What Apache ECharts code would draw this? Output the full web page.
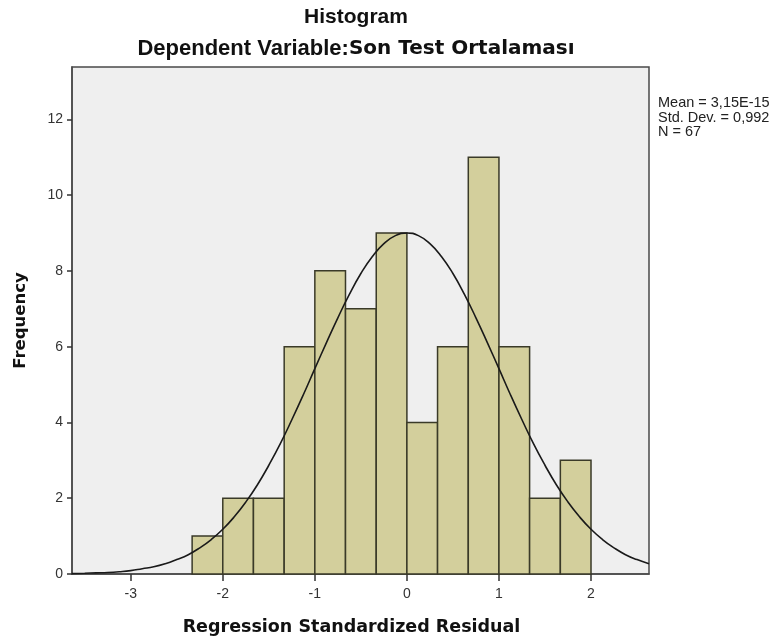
<!DOCTYPE html>
<html>
<head>
<meta charset="utf-8">
<script src="https://cdn.jsdelivr.net/npm/echarts@6/dist/echarts.min.js"></script>
<style>html,body{margin:0;padding:0;background:#fff}#c{width:780px;height:642px}</style>
</head>
<body>
<div id="c"></div>
<script>
// Histogram bins (edges) and frequencies
const binEdges = [-2.333, -2, -1.667, -1.333, -1, -0.667, -0.333, 0, 0.333, 0.667, 1, 1.333, 1.667, 2];
const counts = [1, 2, 2, 6, 8, 7, 9, 4, 6, 11, 6, 2, 3];
// Normal curve
const curveX = [-3.64, -3.5, -3.375, -3.25, -3.125, -3, -2.875, -2.75, -2.625, -2.5, -2.375, -2.25, -2.125, -2, -1.875, -1.75, -1.625, -1.5, -1.375, -1.25, -1.125, -1, -0.875, -0.75, -0.625, -0.5, -0.375, -0.25, -0.125, 0, 0.125, 0.25, 0.375, 0.5, 0.625, 0.75, 0.875, 1, 1.125, 1.25, 1.375, 1.5, 1.625, 1.75, 1.875, 2, 2.125, 2.25, 2.375, 2.5, 2.63];
const curveY = [0.01, 0.02, 0.03, 0.04, 0.06, 0.09, 0.14, 0.19, 0.27, 0.38, 0.51, 0.69, 0.91, 1.18, 1.51, 1.90, 2.35, 2.87, 3.44, 4.07, 4.73, 5.42, 6.10, 6.76, 7.38, 7.93, 8.38, 8.72, 8.93, 9.00, 8.93, 8.72, 8.38, 7.93, 7.38, 6.76, 6.10, 5.42, 4.73, 4.07, 3.44, 2.87, 2.35, 1.90, 1.51, 1.18, 0.91, 0.69, 0.51, 0.38, 0.27];
const xTicks = [-3, -2, -1, 0, 1, 2];
const yTicks = [0, 2, 4, 6, 8, 10, 12];
const statsLines = ['Mean = 3,15E-15', 'Std. Dev. = 0,992', 'N = 67'];

const barData = counts.map((c, i) => [binEdges[i], binEdges[i + 1], c]);
const lineData = curveX.map((x, i) => [x, curveY[i]]);

const chart = echarts.init(document.getElementById('c'), null, {renderer: 'canvas'});
chart.setOption({
  animation: false,
  backgroundColor: '#ffffff',
  grid: {
    left: 72, right: 131, top: 67, bottom: 68,
    show: true, backgroundColor: '#efefef', borderColor: '#4a4a4a', borderWidth: 1.5
  },
  graphic: [
    {type: 'text', x: 356, y: 7, style: {text: 'Histogram', textAlign: 'center', font: 'bold 21px "Liberation Sans", Arial, sans-serif', fill: '#111'}},
    {type: 'text', x: 356, y: 38, style: {
      text: '{a|Dependent Variable:}{b|Son Test Ortalaması}', textAlign: 'center',
      rich: {
        a: {font: 'bold 22px "Liberation Sans", Arial, sans-serif', fill: '#111'},
        b: {font: 'bold 20px "DejaVu Sans", Verdana, sans-serif', fill: '#111'}
      }
    }},
    {type: 'text', x: 658, y: 96, style: {text: statsLines.join('\n'), font: '14.5px "Liberation Sans", Arial, sans-serif', lineHeight: 14.5, fill: '#222'}}
  ],
  xAxis: {
    type: 'value', min: -3.638, max: 2.63,
    name: 'Regression Standardized Residual', nameLocation: 'middle', nameGap: 44,
    nameTextStyle: {fontFamily: '"DejaVu Sans", Verdana, sans-serif', fontWeight: 'bold', fontSize: 17.5, color: '#111', padding: [0, 18, 0, 0]},
    axisLine: {show: true, onZero: false, lineStyle: {color: '#4a4a4a', width: 1.5}},
    axisTick: {show: true, length: 7, customValues: xTicks, lineStyle: {color: '#333', width: 1.5}},
    axisLabel: {customValues: xTicks, margin: 13, fontFamily: '"Liberation Sans", Arial, sans-serif', fontSize: 14, color: '#333'},
    splitLine: {show: false}
  },
  yAxis: {
    type: 'value', min: 0, max: 13.38, interval: 2,
    name: 'Frequency', nameLocation: 'middle', nameGap: 43, nameRotate: 90,
    nameTextStyle: {fontFamily: '"DejaVu Sans", Verdana, sans-serif', fontWeight: 'bold', fontSize: 16.5, color: '#111'},
    axisLine: {show: true, onZero: false, lineStyle: {color: '#4a4a4a', width: 1.5}},
    axisTick: {show: true, length: 5, customValues: yTicks, lineStyle: {color: '#333', width: 1.5}},
    axisLabel: {customValues: yTicks, margin: 9, fontFamily: '"Liberation Sans", Arial, sans-serif', fontSize: 14, color: '#333'},
    splitLine: {show: false}
  },
  series: [
    {
      type: 'custom',
      data: barData,
      encode: {x: [0, 1], y: 2},
      renderItem: function (params, api) {
        const p0 = api.coord([api.value(0), 0]);
        const p1 = api.coord([api.value(1), api.value(2)]);
        return {
          type: 'rect',
          shape: {x: p0[0], y: p1[1], width: p1[0] - p0[0], height: p0[1] - p1[1]},
          style: {fill: '#d3cf9c', stroke: '#3a3a28', lineWidth: 1.5}
        };
      },
      z: 2
    },
    {
      type: 'line', data: lineData, smooth: true, showSymbol: false, symbol: 'none',
      lineStyle: {color: '#1a1a1a', width: 1.6}, z: 3
    }
  ]
});
</script>
</body>
</html>
